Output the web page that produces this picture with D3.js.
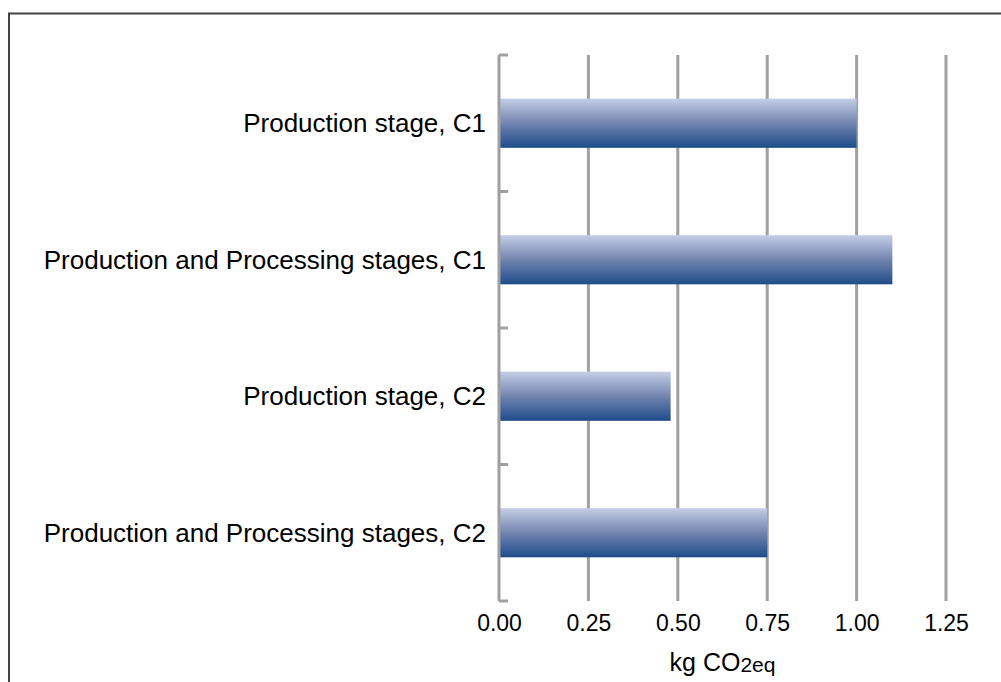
<!DOCTYPE html>
<html>
<head>
<meta charset="utf-8">
<script src="https://cdn.jsdelivr.net/npm/d3@7"></script>
<style>
  html, body { margin: 0; padding: 0; background: #fff; }
  svg { display: block; }
  text { font-family: "Liberation Sans", Arial, sans-serif; fill: #000; }
</style>
</head>
<body>
<svg id="chart" width="1001" height="682"></svg>
<script>
// Emissions per stage and case
const categories = [
  "Production stage, C1",
  "Production and Processing stages, C1",
  "Production stage, C2",
  "Production and Processing stages, C2"
];
const values = [1.00, 1.10, 0.48, 0.75];
const tickValues = [0, 0.25, 0.5, 0.75, 1.0, 1.25];

const svg = d3.select("#chart");
const W = 1001, H = 682;
const margin = { left: 500, right: 55, top: 55, bottom: 81 };

// Outer frame (top and left edges)
svg.append("path")
  .attr("d", `M9,${H} L9,13.5 L${W},13.5`)
  .attr("fill", "none")
  .attr("stroke", "#444")
  .attr("stroke-width", 2);

const x = d3.scaleLinear()
  .domain([0, 1.25])
  .range([margin.left - 1, W - margin.right]);

const y = d3.scaleBand()
  .domain(categories)
  .range([margin.top, H - margin.bottom])
  .paddingInner(0.64)
  .paddingOuter(0.32);

const defs = svg.append("defs");
const grad = defs.append("linearGradient")
  .attr("id", "barFill")
  .attr("x1", 0).attr("y1", 0).attr("x2", 0).attr("y2", 1);
grad.append("stop").attr("offset", "0%").attr("stop-color", "#c4cee6");
grad.append("stop").attr("offset", "50%").attr("stop-color", "#7284b0");
grad.append("stop").attr("offset", "100%").attr("stop-color", "#1d4c8a");

// Vertical gridlines
svg.append("g")
  .selectAll("line")
  .data(tickValues.filter(d => d > 0))
  .join("line")
  .attr("x1", d => x(d)).attr("x2", d => x(d))
  .attr("y1", margin.top).attr("y2", H - margin.bottom)
  .attr("stroke", "#a0a0a0")
  .attr("stroke-width", 3);

// Bars
svg.append("g")
  .selectAll("rect")
  .data(categories)
  .join("rect")
  .attr("x", x(0))
  .attr("y", d => y(d))
  .attr("width", (d, i) => x(values[i]) - x(0))
  .attr("height", y.bandwidth())
  .attr("fill", "url(#barFill)");

// Category axis: line with inward ticks at band boundaries
const bandEdges = [margin.top].concat(categories.map(c => y(c) + y.bandwidth() + y.step() * y.paddingInner() / 2).slice(0, 3)).concat([H - margin.bottom]);
const yAxisG = svg.append("g");
yAxisG.append("line")
  .attr("x1", x(0)).attr("x2", x(0))
  .attr("y1", margin.top).attr("y2", H - margin.bottom)
  .attr("stroke", "#a0a0a0").attr("stroke-width", 3);
yAxisG.selectAll("line.tick")
  .data(bandEdges)
  .join("line")
  .attr("class", "tick")
  .attr("x1", x(0)).attr("x2", x(0) + 9)
  .attr("y1", d => d).attr("y2", d => d)
  .attr("stroke", "#a0a0a0").attr("stroke-width", 3);

// Category labels
svg.append("g")
  .selectAll("text")
  .data(categories)
  .join("text")
  .attr("x", 486)
  .attr("y", d => y(d) + y.bandwidth() / 2)
  .attr("dy", "0.34em")
  .attr("text-anchor", "end")
  .attr("font-size", 26)
  .text(d => d);

// Value axis labels
const xAxis = d3.axisBottom(x)
  .tickValues(tickValues)
  .tickFormat(d3.format(".2f"))
  .tickSize(0)
  .tickPadding(14);
const xg = svg.append("g")
  .attr("transform", `translate(0,${H - margin.bottom})`)
  .call(xAxis);
xg.select(".domain").remove();
xg.selectAll("text")
  .attr("font-size", 23)
  .attr("font-family", "'Liberation Sans', Arial, sans-serif")
  .attr("fill", "#000");

// Axis title with subscript
const title = svg.append("text")
  .attr("x", (x(0) + x(1.25)) / 2)
  .attr("y", 671)
  .attr("text-anchor", "middle")
  .attr("font-size", 25);
title.append("tspan").text("kg CO");
title.append("tspan").attr("font-size", 21).attr("dy", 1).text("2eq");
</script>
</body>
</html>
